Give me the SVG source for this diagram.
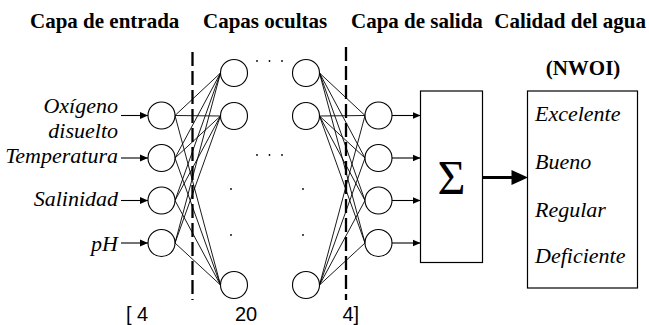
<svg xmlns="http://www.w3.org/2000/svg" width="649" height="325" viewBox="0 0 649 325">
<style>
.title{font-family:"Liberation Serif","Times New Roman",Times,serif;font-weight:bold;font-size:21px;fill:#000}
.lbl{font-family:"Liberation Serif","Times New Roman",Times,serif;font-style:italic;font-size:22px;fill:#000}
.sig{font-family:"Liberation Serif","Times New Roman",Times,serif;font-size:48px;fill:#000}
.num{font-family:"Liberation Sans",Arial,sans-serif;font-size:20px;fill:#000}
.n{fill:#fff;stroke:#000;stroke-width:1.1}
.c{stroke:#000;stroke-width:0.9;fill:none}
.a{stroke:#000;stroke-width:1.1;fill:none;marker-end:url(#ah)}
.box{fill:#fff;stroke:#000;stroke-width:1.2}
.dash{stroke:#000;stroke-width:2.3;stroke-dasharray:14 5;fill:none}
.dot{fill:#000}
</style>
<defs>
<marker id="ah" viewBox="0 0 8 8" refX="8" refY="4" markerWidth="8" markerHeight="8" markerUnits="userSpaceOnUse" orient="auto">
<path d="M0,0.5 L8,4 L0,7.5 Z" fill="#000"/>
</marker>
</defs>
<rect width="649" height="325" fill="#fff"/>

<g id="titles">
<text class="title" x="30" y="28">Capa de entrada</text>
<text class="title" x="203" y="28">Capas ocultas</text>
<text class="title" x="351" y="28">Capa de salida</text>
<text class="title" x="646" y="28" text-anchor="end">Calidad del agua</text>
<text class="title" x="583" y="75" text-anchor="middle">(NWOI)</text>
</g>

<g id="dividers">
<line class="dash" x1="192.5" y1="52" x2="192.5" y2="300"/>
<line class="dash" x1="346" y1="47" x2="346" y2="300"/>
</g>

<g id="connectors">
<line class="c" x1="175" y1="115.5" x2="220.5" y2="73"/>
<line class="c" x1="175" y1="115.5" x2="220.5" y2="116"/>
<line class="c" x1="175" y1="115.5" x2="220.5" y2="285"/>
<line class="c" x1="175" y1="158" x2="220.5" y2="73"/>
<line class="c" x1="175" y1="158" x2="220.5" y2="116"/>
<line class="c" x1="175" y1="158" x2="220.5" y2="285"/>
<line class="c" x1="175" y1="200.5" x2="220.5" y2="73"/>
<line class="c" x1="175" y1="200.5" x2="220.5" y2="116"/>
<line class="c" x1="175" y1="200.5" x2="220.5" y2="285"/>
<line class="c" x1="175" y1="243" x2="220.5" y2="73"/>
<line class="c" x1="175" y1="243" x2="220.5" y2="116"/>
<line class="c" x1="175" y1="243" x2="220.5" y2="285"/>
<line class="c" x1="319.5" y1="73" x2="365" y2="115.5"/>
<line class="c" x1="319.5" y1="73" x2="365" y2="158"/>
<line class="c" x1="319.5" y1="73" x2="365" y2="200.5"/>
<line class="c" x1="319.5" y1="73" x2="365" y2="243"/>
<line class="c" x1="319.5" y1="116" x2="365" y2="115.5"/>
<line class="c" x1="319.5" y1="116" x2="365" y2="158"/>
<line class="c" x1="319.5" y1="116" x2="365" y2="200.5"/>
<line class="c" x1="319.5" y1="116" x2="365" y2="243"/>
<line class="c" x1="319.5" y1="285" x2="365" y2="115.5"/>
<line class="c" x1="319.5" y1="285" x2="365" y2="158"/>
<line class="c" x1="319.5" y1="285" x2="365" y2="200.5"/>
<line class="c" x1="319.5" y1="285" x2="365" y2="243"/>
<line class="a" x1="121" y1="115.5" x2="148" y2="115.5"/>
<line class="a" x1="121" y1="158" x2="148" y2="158"/>
<line class="a" x1="121" y1="200.5" x2="148" y2="200.5"/>
<line class="a" x1="121" y1="243" x2="148" y2="243"/>
<line class="a" x1="392" y1="115.5" x2="420.5" y2="115.5"/>
<line class="a" x1="392" y1="158" x2="420.5" y2="158"/>
<line class="a" x1="392" y1="200.5" x2="420.5" y2="200.5"/>
<line class="a" x1="392" y1="243" x2="420.5" y2="243"/>
<line x1="482.5" y1="177.5" x2="513" y2="177.5" stroke="#000" stroke-width="3"/>
<path d="M511.5,170 L528,177.5 L511.5,185 Z" fill="#000"/>
</g>

<g id="input-labels">
<text class="lbl" x="118" y="113" text-anchor="end">Oxígeno</text>
<text class="lbl" x="118" y="138" text-anchor="end">disuelto</text>
<text class="lbl" x="118" y="163" text-anchor="end">Temperatura</text>
<text class="lbl" x="118" y="206" text-anchor="end">Salinidad</text>
<text class="lbl" x="118" y="251" text-anchor="end">pH</text>
</g>

<g id="input-layer">
<circle class="n" cx="161.5" cy="115.5" r="13.5"/>
<circle class="n" cx="161.5" cy="158" r="13.5"/>
<circle class="n" cx="161.5" cy="200.5" r="13.5"/>
<circle class="n" cx="161.5" cy="243" r="13.5"/>
</g>

<g id="hidden-layer-1">
<circle class="n" cx="234" cy="73" r="13.5"/>
<circle class="n" cx="234" cy="116" r="13.5"/>
<circle class="n" cx="234" cy="285" r="13.5"/>
</g>

<g id="hidden-layer-2">
<circle class="n" cx="306" cy="73" r="13.5"/>
<circle class="n" cx="306" cy="116" r="13.5"/>
<circle class="n" cx="306" cy="285" r="13.5"/>
</g>

<g id="ellipsis">
<circle class="dot" cx="257" cy="61" r="0.9"/>
<circle class="dot" cx="269.5" cy="61" r="0.9"/>
<circle class="dot" cx="282" cy="61" r="0.9"/>
<circle class="dot" cx="257" cy="155" r="0.9"/>
<circle class="dot" cx="269.5" cy="155" r="0.9"/>
<circle class="dot" cx="282" cy="155" r="0.9"/>
<circle class="dot" cx="231" cy="189" r="0.9"/>
<circle class="dot" cx="303" cy="189" r="0.9"/>
<circle class="dot" cx="231" cy="235" r="0.9"/>
<circle class="dot" cx="303" cy="235" r="0.9"/>
</g>

<g id="output-layer">
<circle class="n" cx="378.5" cy="115.5" r="13.5"/>
<circle class="n" cx="378.5" cy="158" r="13.5"/>
<circle class="n" cx="378.5" cy="200.5" r="13.5"/>
<circle class="n" cx="378.5" cy="243" r="13.5"/>
</g>

<g id="sum">
<rect class="box" x="420.5" y="91" width="62" height="171.5"/>
<text class="sig" x="451.5" y="194" text-anchor="middle">Σ</text>
</g>

<g id="quality">
<rect class="box" x="527.5" y="91" width="110" height="197"/>
<text class="lbl" x="535" y="121">Excelente</text>
<text class="lbl" x="535" y="169">Bueno</text>
<text class="lbl" x="535" y="217">Regular</text>
<text class="lbl" x="535" y="263">Deficiente</text>
</g>

<g id="sizes">
<text class="num" x="126" y="320.5">[ 4</text>
<text class="num" x="235" y="320.5">20</text>
<text class="num" x="342.5" y="320.5">4]</text>
</g>
</svg>
